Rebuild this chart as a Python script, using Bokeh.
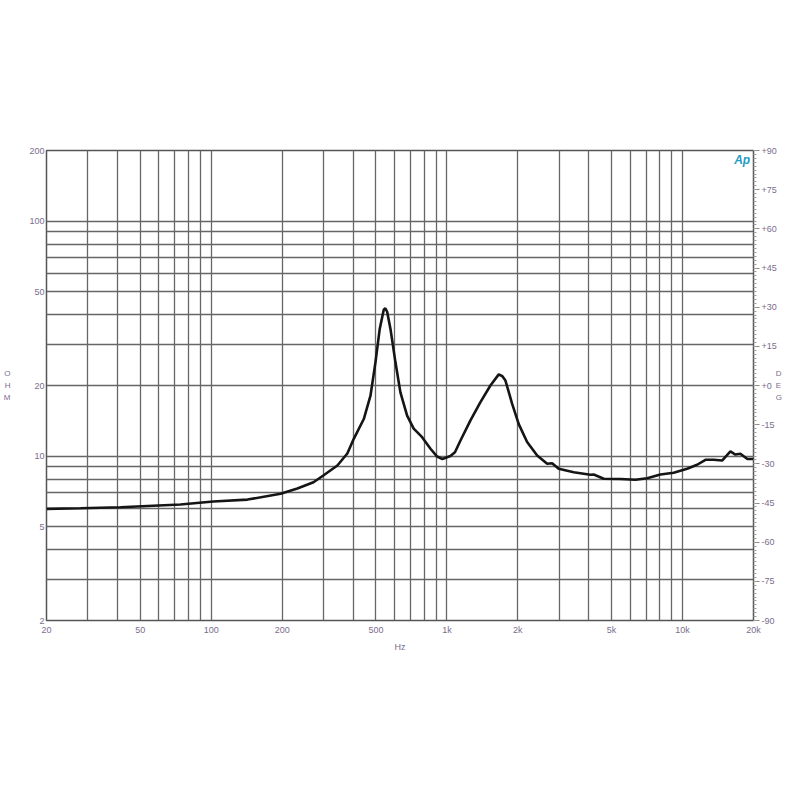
import numpy as np
from bokeh.plotting import figure
from bokeh.models import FixedTicker, LinearAxis, Range1d, Label, LinearScale
from bokeh.embed import file_html
from bokeh.resources import INLINE

# ---- data ----
freq_hz = [20, 27.9, 41.2, 74, 102, 142.5, 197, 232, 271.6, 299, 343, 378, 402.6,
           444, 474, 497.6, 519, 539.6, 548, 557.8, 576, 605, 635, 678, 723, 785,
           852, 909, 957, 1035, 1082, 1142, 1259, 1388, 1530, 1660, 1720, 1772, 1892,
           2018, 2190, 2416, 2664, 2796, 2982, 3454, 4064, 4198, 4630, 5450, 6310,
           7076, 8054, 9170, 10456, 11530, 12504, 13558, 14714, 15960, 16758, 17596,
           18780, 20000]
impedance_ohm = [5.97, 6.01, 6.07, 6.23, 6.42, 6.54, 6.92, 7.29, 7.75, 8.28, 9.13, 10.27, 11.86,
                 14.4, 18.1, 25.1, 34.9, 42.0, 42.6, 41.2, 34.9, 25.1, 18.7, 14.9, 13.1, 12.05,
                 10.76, 9.97, 9.73, 10.02, 10.4, 11.67, 14.2, 17.0, 20.0, 22.3, 21.9, 21.0, 16.7,
                 13.7, 11.5, 10.07, 9.29, 9.34, 8.84, 8.55, 8.34, 8.36, 8.02, 8.0, 7.94,
                 8.06, 8.36, 8.50, 8.84, 9.20, 9.66, 9.66, 9.59, 10.48, 10.17, 10.24,
                 9.75, 9.73]

x_major = [20, 50, 100, 200, 500, 1000, 2000, 5000, 10000, 20000]
x_labels = ["20", "50", "100", "200", "500", "1k", "2k", "5k", "10k", "20k"]
x_minor = [30, 40, 60, 70, 80, 90, 300, 400, 600, 700, 800, 900,
           3000, 4000, 6000, 7000, 8000, 9000]
y_major = [2, 5, 10, 20, 50, 100, 200]
y_labels = ["2", "5", "10", "20", "50", "100", "200"]
y_minor = [3, 4, 6, 7, 8, 9, 30, 40, 60, 70, 80, 90]
deg_ticks = [-90, -75, -60, -45, -30, -15, 0, 15, 30, 45, 60, 75, 90]
deg_labels = ["-90", "-75", "-60", "-45", "-30", "-15", "+0", "+15", "+30", "+45", "+60", "+75", "+90"]

LABEL_COLOR = "#7b6d8d"
GRID_COLOR = "#666666"
FONT = "Liberation Sans"

p = figure(width=784, height=784, x_axis_type="log", y_axis_type="log",
           x_range=Range1d(20, 20000), y_range=Range1d(2, 200),
           output_backend="svg", toolbar_location=None,
           min_border_left=46, min_border_right=31, min_border_top=150, min_border_bottom=164)
p.background_fill_color = "white"
p.border_fill_color = "white"
p.outline_line_color = "#555555"
p.outline_line_width = 1.5

xt = FixedTicker(ticks=x_major, minor_ticks=x_minor)
yt = FixedTicker(ticks=y_major, minor_ticks=y_minor)
p.xaxis.ticker = xt
p.yaxis.ticker = yt
p.xgrid.ticker = xt
p.ygrid.ticker = yt
for g in (p.xgrid, p.ygrid):
    g.grid_line_color = GRID_COLOR
    g.grid_line_width = 1.3
    g.minor_grid_line_color = GRID_COLOR
    g.minor_grid_line_width = 1.3

p.xaxis.major_label_overrides = dict(zip(x_major, x_labels))
p.yaxis.major_label_overrides = dict(zip(y_major, y_labels))
for ax in (p.xaxis, p.yaxis):
    ax.axis_line_color = None
    ax.major_tick_line_color = None
    ax.minor_tick_line_color = None
    ax.major_tick_out = 0
    ax.minor_tick_out = 0
    ax.major_tick_in = 0
    ax.minor_tick_in = 0
    ax.major_label_text_font = FONT
    ax.major_label_text_font_size = "9px"
    ax.major_label_text_color = LABEL_COLOR
p.xaxis.major_label_standoff = 4
p.yaxis.major_label_standoff = 2

p.xaxis.axis_label = "Hz"
p.xaxis.axis_label_text_font = FONT
p.xaxis.axis_label_text_font_size = "9px"
p.xaxis.axis_label_text_font_style = "normal"
p.xaxis.axis_label_text_color = LABEL_COLOR
p.xaxis.axis_label_standoff = 4

p.extra_y_ranges = {"deg": Range1d(-90, 90)}
p.extra_y_scales = {"deg": LinearScale()}
deg_minor = list(np.arange(-90, 90.01, 1.5))
ra = LinearAxis(y_range_name="deg", ticker=FixedTicker(ticks=deg_ticks, minor_ticks=deg_minor))
ra.major_label_overrides = dict(zip(deg_ticks, deg_labels))
ra.axis_line_color = None
ra.major_tick_in = 0
ra.major_tick_out = 6
ra.minor_tick_in = 0
ra.minor_tick_out = 3
ra.major_tick_line_color = "#8a8a8a"
ra.minor_tick_line_color = "#a0a0a0"
ra.major_label_text_font = FONT
ra.major_label_text_font_size = "9px"
ra.major_label_text_color = LABEL_COLOR
ra.major_label_standoff = 2
p.add_layout(ra, "right")


def stacked_label(ax, text, standoff):
    ax.axis_label = text
    ax.axis_label_text_font = FONT
    ax.axis_label_text_font_size = "8px"
    ax.axis_label_text_font_style = "normal"
    ax.axis_label_text_color = LABEL_COLOR
    ax.axis_label_text_line_height = 1.3
    ax.axis_label_standoff = standoff
    try:
        ax.axis_label_orientation = "horizontal"
        ax.axis_label_text_align = "center"
    except Exception:
        ax.axis_label = text.replace("\n", "")


stacked_label(p.yaxis[0], "O\nH\nM", 16)
stacked_label(ra, "D\nE\nG", -4)

p.line(freq_hz, impedance_ohm, line_color="#151515", line_width=2.6)

p.add_layout(Label(x=17900, y=182, text="Ap", text_align="center", text_baseline="middle",
                   text_font=FONT, text_font_size="12px", text_font_style="bold italic",
                   text_color="#1f9cc4"))

open("out.html", "w").write(file_html(p, INLINE))
